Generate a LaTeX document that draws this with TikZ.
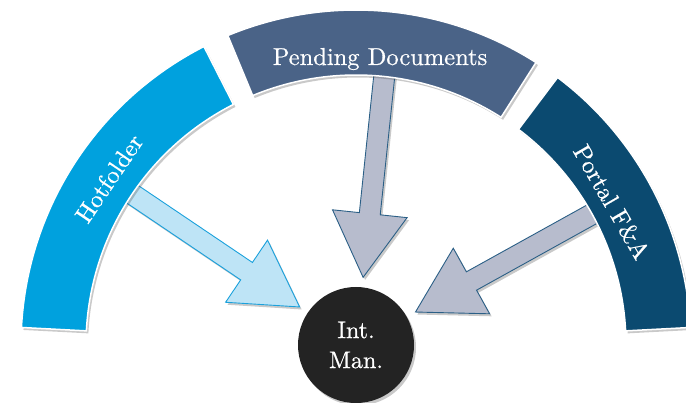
\documentclass[tikz,border=0pt]{standalone}
\usepackage{fontspec}
\setmainfont{lmroman10-regular}[Extension=.otf]
\newfontfamily\labfont{lmroman10-regular}[Extension=.otf, FakeBold=0.6]
\usetikzlibrary{calc,shadows}
\definecolor{hotC}{HTML}{00A1DE}
\definecolor{pendC}{HTML}{4A6387}
\definecolor{portC}{HTML}{0B4A70}
\definecolor{harrFill}{HTML}{BEE4F6}
\definecolor{harrDraw}{HTML}{1AA1DC}
\definecolor{garrFill}{HTML}{B7BCCD}
\definecolor{garrDraw}{HTML}{2B5F86}
\definecolor{circC}{HTML}{232323}
\tikzset{
  softshadow/.style={drop shadow={shadow xshift=2pt,shadow yshift=-2.5pt,opacity=0.3,fill=black!70}},
  band/.style={draw=white, line width=1.5pt, softshadow},
  bandlabel/.style={text=white, font=\labfont\fontsize{24.5}{28}\selectfont, inner sep=0pt},
  barrow/.style={line width=0.9pt, line join=miter, softshadow},
  hotarrow/.style={barrow, fill=harrFill, draw=harrDraw},
  grayarrow/.style={barrow, fill=garrFill, draw=garrDraw},
  hub/.style={circle, fill=circC, minimum size=116pt, inner sep=0pt, text=white,
    align=center, font=\labfont\fontsize{24}{30}\selectfont, softshadow},
}
\newcommand\blockarrow[3]{%
  \path[#3] let \p1=($(#2)-(#1)$), \n1={atan2(\y1,\x1)} in
    ($(#1)+(\n1+90:10.5pt)$) --
    ($(#1)+(\n1:143pt)+(\n1+90:10.5pt)$) --
    ($(#1)+(\n1:143pt)+(\n1+90:37.5pt)$) --
    ($(#1)+(\n1:207pt)$) --
    ($(#1)+(\n1:143pt)+(\n1-90:37.5pt)$) --
    ($(#1)+(\n1:143pt)+(\n1-90:10.5pt)$) --
    ($(#1)+(\n1-90:10.5pt)$) -- cycle;}
\begin{document}
\begin{tikzpicture}
\useasboundingbox (0,0) rectangle (686pt,-403pt);
\coordinate (O) at (356pt,-345pt);
% hub
\node[hub] (im) at (O) {Int.\\Man.};
% arrow tails
\coordinate (hT) at ([shift={(O)}]146:275pt);
\coordinate (pT) at ([shift={(O)}]84:275pt);
\coordinate (fT) at ([shift={(O)}]29:275pt);
\blockarrow{hT}{im}{hotarrow}
\blockarrow{pT}{im}{grayarrow}
\blockarrow{fT}{im}{grayarrow}
% bands
\path[band, fill=hotC] ([shift={(O)}]117:335pt) arc[start angle=117, end angle=177, radius=335pt]
  -- ([shift={(O)}]177:270pt) arc[start angle=177, end angle=117, radius=270pt] -- cycle;
\path[band, fill=pendC] ([shift={(O)}]57.5:335pt) arc[start angle=57.5, end angle=112.5, radius=335pt]
  -- ([shift={(O)}]112.5:270pt) arc[start angle=112.5, end angle=57.5, radius=270pt] -- cycle;
\path[band, fill=portC] ([shift={(O)}]3:335pt) arc[start angle=3, end angle=53, radius=335pt]
  -- ([shift={(O)}]53:270pt) arc[start angle=53, end angle=3, radius=270pt] -- cycle;
% labels
\node[bandlabel, rotate=56] (hot) at ([shift={(O)}]146:298pt) {Hotfolder};
\node[bandlabel, anchor=base] (pend) at (380pt,-65pt) {Pending Documents};
\node[bandlabel, rotate=-60] (port) at ([shift={(O)}]29.2:293pt) {Portal F\&A};
\end{tikzpicture}
\end{document}
